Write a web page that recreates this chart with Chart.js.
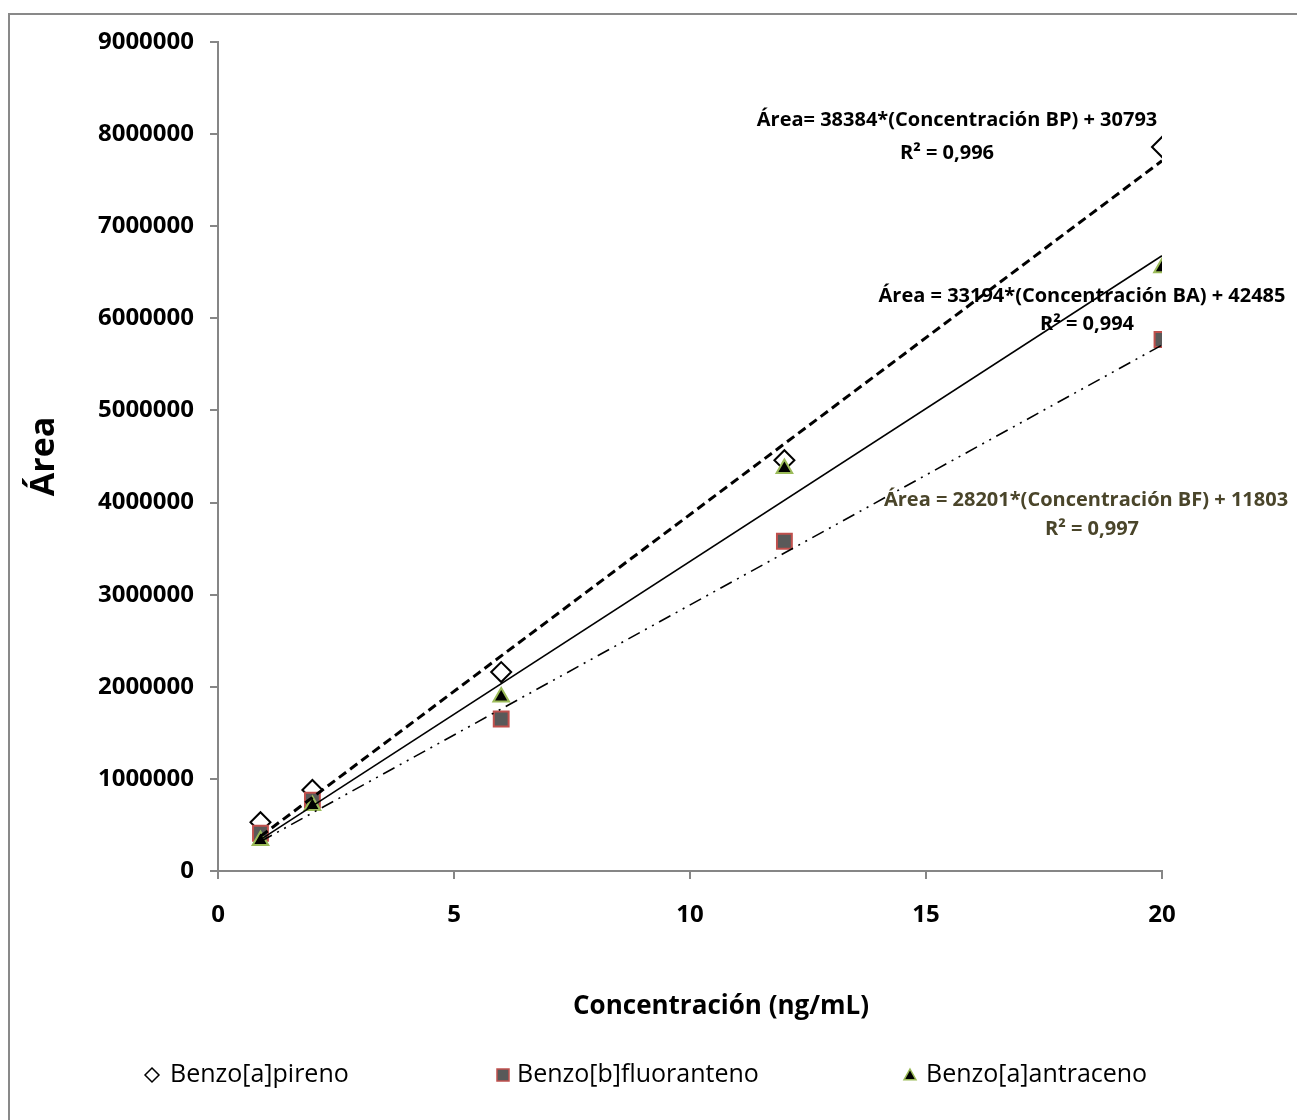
<!DOCTYPE html>
<html>
<head>
<meta charset="utf-8">
<script src="https://cdn.jsdelivr.net/npm/chart.js@4.4.0/dist/chart.umd.min.js"></script>
<style>
  html, body { margin: 0; padding: 0; background: #fff; }
  #wrap { width: 1297px; height: 1120px; position: relative; }
</style>
</head>
<body>
<div id="wrap"><canvas id="chart" width="1297" height="1120"></canvas></div>
<script>
// ---- Data -------------------------------------------------------------
const concentrations = [0.9, 2, 6, 12, 20];          // ng/mL
const areaBP = [530000, 880000, 2160000, 4460000, 7860000];   // Benzo[a]pireno
const areaBF = [410000, 770000, 1650000, 3580000, 5770000];   // Benzo[b]fluoranteno
const areaBA = [330000, 710000, 1890000, 4370000, 6550000];   // Benzo[a]antraceno

// trendline end points (first and last concentration)
const trendX  = [0.9, 20];
const trendBP = [376000, 7710000];
const trendBA = [341000, 6680000];
const trendBF = [320000, 5710000];

const xTickValues = [0, 5, 10, 15, 20];
const yTickValues = [0, 1000000, 2000000, 3000000, 4000000, 5000000, 6000000, 7000000, 8000000, 9000000];

const seriesNames = ["Benzo[a]pireno", "Benzo[b]fluoranteno", "Benzo[a]antraceno"];
const xTitle = "Concentración (ng/mL)";
const equationLines = [
    ["Área= 38384*(Concentración BP) + 30793", "R² = 0,996"],
    ["Área = 33194*(Concentración BA) + 42485", "R² = 0,994"],
    ["Área = 28201*(Concentración BF) + 11803", "R² = 0,997"],
];

// ---- Helpers -----------------------------------------------------------
const pts = (xs, ys) => xs.map((x, i) => ({ x: x, y: ys[i] }));
const FONT = "'Open Sans', 'Liberation Sans', sans-serif";
const AXIS_GRAY = "#868686";

// equation label placement (pixels) and colours
const eqLayout = [
    { color: "#000000", lines: [[957, 120], [947, 153]] },
    { color: "#000000", lines: [[1082, 296], [1087, 324]] },
    { color: "#4a452a", lines: [[1086, 500], [1092, 529]] },
];

// legend marker placement (pixels)
const legendLayout = { y: 1075, markerX: [152, 503, 910], textX: [170, 517, 926] };

function drawMarker(ctx, style, x, y, r, fill, stroke, lw) {
    ctx.save();
    ctx.beginPath();
    if (style === "rectRot") {
        ctx.moveTo(x, y - r); ctx.lineTo(x + r, y); ctx.lineTo(x, y + r); ctx.lineTo(x - r, y);
    } else if (style === "rect") {
        ctx.rect(x - r, y - r, 2 * r, 2 * r);
    } else {
        ctx.moveTo(x, y - r); ctx.lineTo(x + r, y + r * 0.8); ctx.lineTo(x - r, y + r * 0.8);
    }
    ctx.closePath();
    ctx.fillStyle = fill; ctx.fill();
    ctx.lineWidth = lw; ctx.strokeStyle = stroke; ctx.stroke();
    ctx.restore();
}

const decorPlugin = {
    id: "decor",
    beforeDraw(chart) {
        const ctx = chart.ctx;
        ctx.save();
        ctx.fillStyle = "#fff";
        ctx.fillRect(0, 0, chart.width, chart.height);
        ctx.strokeStyle = "#898989";
        ctx.lineWidth = 2;
        ctx.strokeRect(9, 14, chart.width + 20, chart.height + 20);
        ctx.restore();
    },
    afterDraw(chart) {
        const ctx = chart.ctx;
        const xs = chart.scales.x;
        ctx.save();
        ctx.textBaseline = "middle";
        // x axis title (sits a little right of the plot centre, as in the original)
        ctx.font = "bold 26px " + FONT;
        ctx.textAlign = "center";
        ctx.fillStyle = "#000";
        ctx.fillText(xTitle, (xs.left + xs.right) / 2 + 31, xs.bottom - 13);
        // trendline equations
        ctx.font = "bold 20px " + FONT;
        eqLayout.forEach((lay, i) => {
            ctx.fillStyle = lay.color;
            lay.lines.forEach((p, j) => ctx.fillText(equationLines[i][j], p[0], p[1]));
        });
        // legend
        const styles = [
            ["rectRot", 7, "#ffffff", "#000000", 1.5],
            ["rect", 6, "#595959", "#c0504d", 1.5],
            ["triangle", 6, "#000000", "#9bbb59", 1.5],
        ];
        ctx.font = "25px " + FONT;
        ctx.textAlign = "left";
        seriesNames.forEach((name, i) => {
            const s = styles[i];
            drawMarker(ctx, s[0], legendLayout.markerX[i], legendLayout.y, s[1], s[2], s[3], s[4]);
            ctx.fillStyle = "#000";
            ctx.fillText(name, legendLayout.textX[i], legendLayout.y);
        });
        ctx.restore();
    },
};

const ctx = document.getElementById("chart").getContext("2d");
new Chart(ctx, {
    type: "scatter",
    data: {
        datasets: [
            {   // trendlines on top of markers
                label: "Lineal BP", type: "line", data: pts(trendX, trendBP),
                borderColor: "#000", borderWidth: 3, borderDash: [9, 5],
                pointRadius: 0, fill: false, order: 1,
            },
            {
                label: "Lineal BA", type: "line", data: pts(trendX, trendBA),
                borderColor: "#000", borderWidth: 1.6,
                pointRadius: 0, fill: false, order: 1,
            },
            {
                label: "Lineal BF", type: "line", data: pts(trendX, trendBF),
                borderColor: "#000", borderWidth: 1.6, borderDash: [13, 6, 2, 6, 2, 6],
                pointRadius: 0, fill: false, order: 1,
            },
            {
                label: seriesNames[2], data: pts(concentrations, areaBA),
                pointStyle: "triangle", pointRadius: 9,
                backgroundColor: "#000000", borderColor: "#9bbb59", borderWidth: 2, order: 2,
            },
            {
                label: seriesNames[1], data: pts(concentrations, areaBF),
                pointStyle: "rect", pointRadius: 10.5,
                backgroundColor: "#595959", borderColor: "#c0504d", borderWidth: 2, order: 3,
            },
            {
                label: seriesNames[0], data: pts(concentrations, areaBP),
                pointStyle: "rectRot", pointRadius: 10,
                backgroundColor: "#ffffff", borderColor: "#000000", borderWidth: 2, order: 4,
            },
        ],
    },
    options: {
        responsive: false,
        animation: false,
        devicePixelRatio: 1,
        layout: { padding: { left: 22, top: 42, right: 0, bottom: 100 } },
        plugins: { legend: { display: false }, tooltip: { enabled: false } },
        scales: {
            x: {
                type: "linear", min: 0, max: 20,
                afterBuildTicks: (s) => { s.ticks = xTickValues.map((v) => ({ value: v })); },
                afterFit: (s) => { s.height = 149; },
                grid: { drawOnChartArea: false, drawTicks: true, tickLength: 8, color: AXIS_GRAY, lineWidth: 2 },
                border: { color: AXIS_GRAY, width: 2 },
                ticks: { color: "#000", padding: 22, maxRotation: 0, font: { family: FONT, size: 24, weight: "bold" } },
                title: { display: false },
            },
            y: {
                type: "linear", min: 0, max: 9000000,
                afterBuildTicks: (s) => { s.ticks = yTickValues.map((v) => ({ value: v })); },
                afterFit: (s) => { s.width = 196; },
                grid: { drawOnChartArea: false, drawTicks: true, tickLength: 8, color: AXIS_GRAY, lineWidth: 2 },
                border: { color: AXIS_GRAY, width: 2 },
                ticks: { color: "#000", padding: 16, callback: (v) => String(v),
                         font: { family: FONT, size: 24, weight: "bold" } },
                title: { display: true, text: "Área", color: "#000",
                         padding: { top: 2, bottom: 0 }, font: { family: FONT, size: 34, weight: "bold" } },
            },
            y2: {
                type: "linear", position: "right",
                afterFit: (s) => { s.width = 135; },
                grid: { display: false, drawTicks: false },
                border: { display: false },
                ticks: { display: false },
            },
        },
    },
    plugins: [decorPlugin],
});
</script>
</body>
</html>
